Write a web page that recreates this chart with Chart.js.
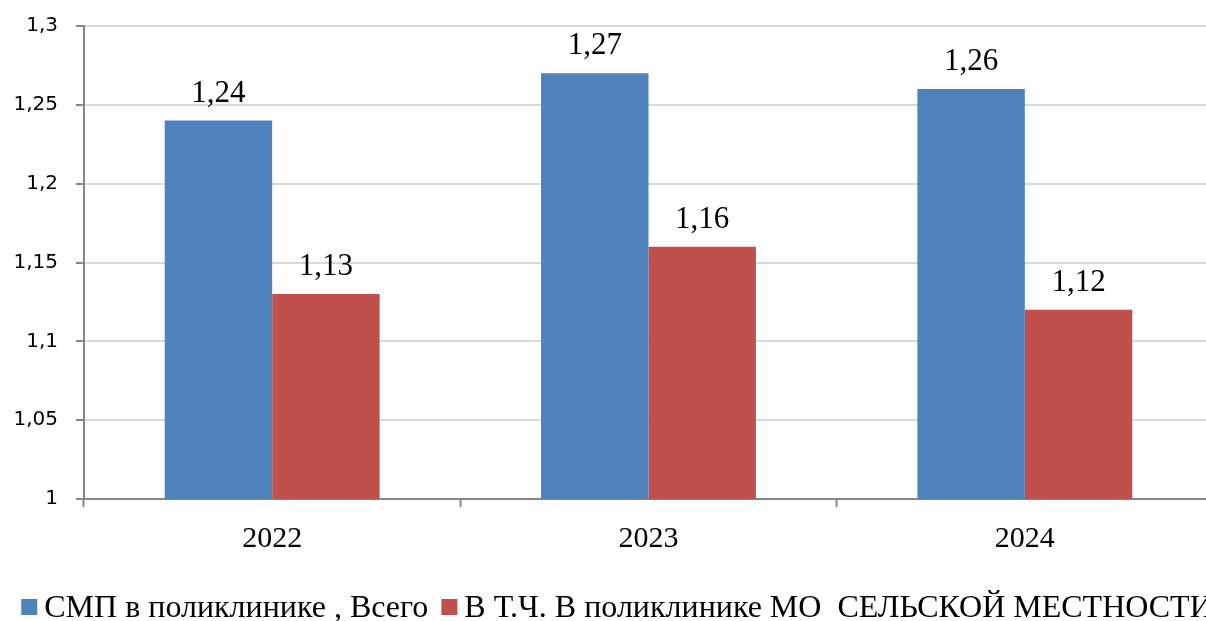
<!DOCTYPE html>
<html>
<head>
<meta charset="utf-8">
<script src="https://cdn.jsdelivr.net/npm/chart.js@4.4.1/dist/chart.umd.min.js"></script>
<style>
html,body{margin:0;padding:0;background:#fff;overflow:hidden;width:1206px;height:621px;}
#wrap{position:absolute;left:0;top:0;width:1213px;height:621px;}
</style>
</head>
<body>
<div id="wrap"><canvas id="c" width="1213" height="621"></canvas></div>
<script>
const categories = ['2022', '2023', '2024'];
const seriesNames = ['СМП в поликлинике , Всего', 'В Т.Ч. В поликлинике МО  СЕЛЬСКОЙ МЕСТНОСТИ'];
const smpTotal = [1.24, 1.27, 1.26];
const smpRural = [1.13, 1.16, 1.12];
const yMin = 1, yMax = 1.3, yStep = 0.05;

const fmt = v => {
  let s = (Math.round(v * 100) / 100).toString();
  return s.replace('.', ',');
};

const dataLabels = {
  id: 'dataLabels',
  afterDatasetsDraw(chart) {
    const ctx = chart.ctx;
    ctx.save();
    ctx.font = '31px "Liberation Serif"';
    ctx.fillStyle = '#000';
    ctx.textAlign = 'center';
    ctx.textBaseline = 'alphabetic';
    chart.data.datasets.forEach((ds, i) => {
      chart.getDatasetMeta(i).data.forEach((el, j) => {
        ctx.fillText(fmt(ds.data[j]), el.x, el.y - 19);
      });
    });
    ctx.restore();
  }
};

const bottomLegend = {
  id: 'bottomLegend',
  afterDraw(chart) {
    const ctx = chart.ctx;
    ctx.save();
    ctx.font = '32px "Liberation Serif"';
    ctx.textBaseline = 'alphabetic';
    ctx.textAlign = 'left';
    const box = 16, gap = 7, itemGap = 13, baseline = 617, center = 617;
    const items = chart.data.datasets.map(ds => ({ text: ds.label, color: ds.backgroundColor, w: ctx.measureText(ds.label).width }));
    const total = items.reduce((s, it) => s + box + gap + it.w, 0) + itemGap * (items.length - 1);
    let x = center - total / 2;
    items.forEach(it => {
      ctx.fillStyle = it.color;
      ctx.fillRect(x, baseline - 18, box, box);
      x += box + gap;
      ctx.fillStyle = '#000';
      ctx.fillText(it.text, x, baseline);
      x += it.w + itemGap;
    });
    ctx.restore();
  }
};

new Chart(document.getElementById('c'), {
  type: 'bar',
  data: {
    labels: categories,
    datasets: [
      { label: seriesNames[0], data: smpTotal, backgroundColor: '#4F81BD', borderWidth: 0 },
      { label: seriesNames[1], data: smpRural, backgroundColor: '#C0504D', borderWidth: 0 }
    ]
  },
  options: {
    responsive: false,
    animation: false,
    devicePixelRatio: 1,
    layout: { padding: { top: 26, left: 0, right: 0, bottom: 0 } },
    datasets: { bar: { categoryPercentage: 0.571, barPercentage: 1.0 } },
    plugins: {
      tooltip: { enabled: false },
      legend: { display: false }
    },
    scales: {
      x: {
        grid: { offset: true, drawOnChartArea: false, drawTicks: true, tickLength: 8, tickColor: '#868686', tickWidth: 2 },
        border: { color: '#868686', width: 2 },
        ticks: { font: { family: 'Liberation Serif', size: 30 }, color: '#000', padding: 14 },
        afterFit(scale) { scale.height = 122; scale.paddingLeft = 0; scale.paddingRight = 0; }
      },
      y: {
        min: yMin, max: yMax,
        grid: { color: '#d9d9d9', lineWidth: 2, drawTicks: true, tickLength: 8, tickColor: '#868686', tickWidth: 2 },
        border: { color: '#868686', width: 2 },
        ticks: { stepSize: yStep, font: { family: 'DejaVu Sans', size: 20 }, color: '#000', padding: 18, callback: v => fmt(v) },
        afterFit(scale) { scale.width = 84; scale.paddingTop = 0; scale.paddingBottom = 0; }
      }
    }
  },
  plugins: [dataLabels, bottomLegend]
});
</script>
</body>
</html>
